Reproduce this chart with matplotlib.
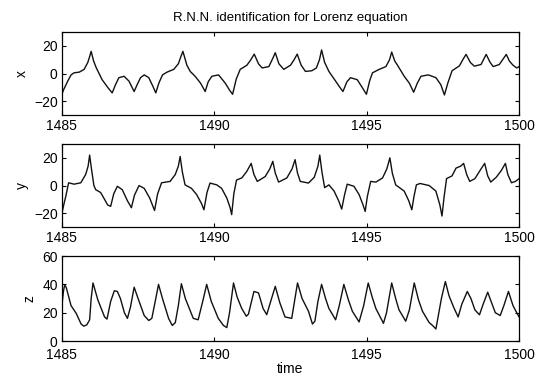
import matplotlib
matplotlib.use("Agg")
import matplotlib.pyplot as plt

plt.rcParams['font.family'] = ['Liberation Sans', 'DejaVu Sans']

# x(t)
x_time = [1485.00, 1485.05, 1485.18, 1485.30, 1485.40, 1485.57, 1485.73, 1485.85, 1485.90, 1485.96,
          1486.04, 1486.13, 1486.22, 1486.32, 1486.52, 1486.65, 1486.76, 1486.87, 1487.04, 1487.20,
          1487.37, 1487.47, 1487.58, 1487.70, 1487.85, 1487.98, 1488.08, 1488.18, 1488.30, 1488.45,
          1488.67, 1488.82, 1488.90, 1488.97, 1489.10, 1489.21, 1489.37, 1489.55, 1489.70, 1489.80,
          1489.92, 1490.14, 1490.36, 1490.50, 1490.60, 1490.72, 1490.85, 1491.07, 1491.20, 1491.31,
          1491.45, 1491.57, 1491.79, 1491.92, 1492.00, 1492.12, 1492.28, 1492.50, 1492.62, 1492.72,
          1492.85, 1492.99, 1493.20, 1493.35, 1493.45, 1493.52, 1493.62, 1493.76, 1493.98, 1494.12,
          1494.22, 1494.35, 1494.47, 1494.69, 1494.85, 1494.99, 1495.10, 1495.19, 1495.41, 1495.63,
          1495.75, 1495.82, 1495.92, 1496.01, 1496.23, 1496.40, 1496.54, 1496.66, 1496.78, 1497.02,
          1497.27, 1497.43, 1497.55, 1497.66, 1497.80, 1498.04, 1498.18, 1498.26, 1498.40, 1498.53,
          1498.75, 1498.92, 1499.05, 1499.15, 1499.35, 1499.58, 1499.68, 1499.80, 1499.92, 1500.00]
x_vals = [-15, -12, -6, -1, 0.5, 1, 3, 8, 11.5, 16,
          9, 4, 0, -4.5, -10.5, -14, -8, -3, -2, -5.5,
          -13, -8, -3, -1, -3, -9, -14, -7, -1, 1,
          3, 7, 12, 16, 6, 1.5, -2, -7, -13, -6,
          -2, -1, -7, -12, -15, -4, 3, 6, 10, 14,
          7, 4, 5, 11, 15, 7, 3, 6, 10, 14,
          6, 1.5, 2, 4, 10, 17, 8, 1.5, -5.5, -10,
          -13, -6, -3, -4.5, -10, -15, -5, 0.5, 3, 5,
          10, 15.5, 9, 6, -2, -7, -13.5, -7, -2, -1,
          -3, -8, -15.5, -7, 2, 5.5, 11, 13.8, 8, 5.3,
          6.5, 13.8, 8, 5, 6.5, 13.8, 9, 6, 4, 5]

# y(t)
y_time = [1485.00, 1485.06, 1485.13, 1485.22, 1485.40, 1485.62, 1485.78, 1485.86, 1485.91, 1485.97,
          1486.05, 1486.11, 1486.27, 1486.40, 1486.50, 1486.60, 1486.70, 1486.82, 1486.98, 1487.15,
          1487.28, 1487.38, 1487.53, 1487.70, 1487.88, 1488.04, 1488.14, 1488.27, 1488.55, 1488.72,
          1488.82, 1488.88, 1488.95, 1489.04, 1489.25, 1489.42, 1489.58, 1489.66, 1489.76, 1489.86,
          1490.08, 1490.24, 1490.41, 1490.52, 1490.57, 1490.64, 1490.73, 1490.90, 1491.06, 1491.21,
          1491.30, 1491.41, 1491.67, 1491.82, 1491.92, 1492.00, 1492.11, 1492.38, 1492.55, 1492.65,
          1492.73, 1492.82, 1493.09, 1493.28, 1493.40, 1493.46, 1493.53, 1493.62, 1493.76, 1493.93,
          1494.08, 1494.18, 1494.27, 1494.36, 1494.58, 1494.75, 1494.88, 1494.95, 1495.02, 1495.13,
          1495.30, 1495.52, 1495.66, 1495.76, 1495.84, 1495.95, 1496.23, 1496.38, 1496.48, 1496.55,
          1496.63, 1496.75, 1497.05, 1497.27, 1497.40, 1497.47, 1497.54, 1497.62, 1497.80, 1497.93,
          1498.08, 1498.18, 1498.28, 1498.38, 1498.55, 1498.75, 1498.87, 1498.97, 1499.07, 1499.25,
          1499.42, 1499.55, 1499.63, 1499.75, 1499.88, 1500.00]
y_vals = [-20, -14, -7.5, 2, 1, 2, 8, 14, 22, 12,
          0, -3, -5, -10, -14, -15, -6, -0.5, -3, -11,
          -16, -7, 0, -2, -9, -18, -6, 2, 3, 8,
          14, 21, 10, 0.5, -2, -6.5, -13, -17.5, -5, 1.8,
          0.5, -2, -9, -16, -21, -6, 4, 5.5, 10, 16,
          8, 3, 6.5, 12, 17.5, 9, 2.5, 5.5, 12, 18.7,
          9, 3, 1.8, 6, 14, 22, 10, -1.5, 0.5, -4,
          -11, -17, -7, 1, -0.5, -6.5, -14, -18.7, -8, 3,
          2.5, 5.5, 12, 20, 9, 0.5, -4, -11, -17.5, -8,
          0.5, 1.5, 0, -4, -14, -22, -8, 5, 7, 12.6,
          14, 16, 8, 3, 5, 12, 16, 7, 2.5, 6,
          11, 16, 8, 2, 3, 5]

# z(t)
z_time = [1485.00, 1485.05, 1485.09, 1485.14, 1485.30, 1485.47, 1485.63, 1485.72, 1485.82, 1485.91,
          1485.96, 1486.02, 1486.10, 1486.18, 1486.40, 1486.48, 1486.60, 1486.72, 1486.82, 1486.92,
          1487.05, 1487.15, 1487.25, 1487.37, 1487.50, 1487.70, 1487.85, 1487.95, 1488.08, 1488.17,
          1488.30, 1488.50, 1488.62, 1488.72, 1488.82, 1488.92, 1489.05, 1489.31, 1489.47, 1489.62,
          1489.75, 1489.90, 1490.13, 1490.30, 1490.41, 1490.50, 1490.63, 1490.75, 1490.90, 1491.05,
          1491.12, 1491.30, 1491.45, 1491.60, 1491.72, 1491.85, 1492.00, 1492.15, 1492.32, 1492.54,
          1492.73, 1492.88, 1493.09, 1493.22, 1493.30, 1493.40, 1493.52, 1493.65, 1493.76, 1493.98,
          1494.10, 1494.25, 1494.40, 1494.53, 1494.75, 1494.90, 1495.05, 1495.18, 1495.30, 1495.55,
          1495.65, 1495.82, 1495.95, 1496.06, 1496.28, 1496.40, 1496.56, 1496.70, 1496.83, 1497.05,
          1497.16, 1497.27, 1497.35, 1497.45, 1497.58, 1497.70, 1497.85, 1498.00, 1498.12, 1498.30,
          1498.42, 1498.55, 1498.70, 1498.82, 1498.97, 1499.08, 1499.22, 1499.38, 1499.50, 1499.65,
          1499.80, 1499.92, 1500.00]
z_vals = [25, 35, 39.5, 38, 25, 19.5, 12, 10.5, 11.5, 15,
          30, 41, 35, 29, 17, 15.5, 28, 35.5, 35, 30,
          20, 16, 24, 38, 30, 18, 14.5, 16, 30, 40,
          30, 16, 11, 13, 25, 40.5, 30, 16, 15, 28,
          40, 28, 16, 11, 9.5, 20, 41, 31, 23, 17.5,
          19, 35, 34, 23, 18.6, 28, 38.6, 27, 17, 16,
          41, 30, 21, 12, 14, 28, 40, 30, 23, 15,
          25, 40, 29, 21, 13.5, 25, 41, 31, 23, 12.5,
          20, 41, 30, 22, 14, 22, 41, 29, 21, 13,
          11, 8.5, 18, 30, 42, 32, 24, 17, 26, 35,
          30, 22, 18.5, 26, 34.5, 28, 20, 18, 25, 35,
          25, 20, 17]

series = [(x_time, x_vals, 'x', [-30, 30], [-20, 0, 20]),
          (y_time, y_vals, 'y', [-30, 30], [-20, 0, 20]),
          (z_time, z_vals, 'z', [0, 60], [0, 20, 40, 60])]

fig = plt.figure(figsize=(5.43, 3.76), dpi=100)
# [left, bottom, width, height] for the three stacked panels
boxes = [[0.114, 0.694, 0.842, 0.221],
         [0.114, 0.396, 0.842, 0.221],
         [0.114, 0.093, 0.842, 0.226]]

for box, (t, v, name, ylim, yticks) in zip(boxes, series):
    ax = fig.add_axes(box)
    ax.plot(t, v, color='#111111', linewidth=1.0)
    ax.set_xlim(1485, 1500)
    ax.set_ylim(*ylim)
    ax.set_xticks([1485, 1490, 1495, 1500])
    ax.set_yticks(yticks)
    ax.tick_params(direction='in', top=True, right=True, length=3,
                   labelsize=10, pad=3)
    ax.set_ylabel(name, fontsize=10, labelpad=4)
    for s in ax.spines.values():
        s.set_linewidth(0.9)
    if name == 'x':
        ax.set_title('R.N.N. identification for Lorenz equation', fontsize=9.5, pad=8)
    if name == 'z':
        # push the bottom tick labels down a bit so "0" and "1485" don't collide
        ax.tick_params(axis='x', pad=5)
        ax.set_xlabel('time', fontsize=10, labelpad=0)

fig.savefig('out.png', dpi=100)
